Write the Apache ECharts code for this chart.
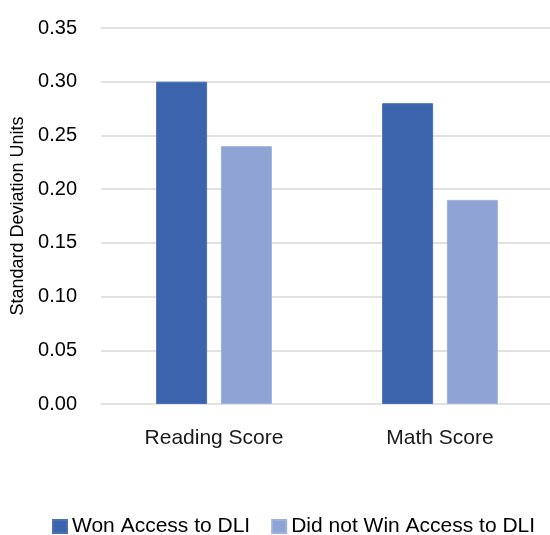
<!DOCTYPE html>
<html>
<head>
<meta charset="utf-8">
<script src="https://cdn.jsdelivr.net/npm/echarts@6/dist/echarts.min.js"></script>
<style>
  html, body { margin: 0; padding: 0; background: #fff; overflow: hidden; }
  /* the plot area runs slightly past the right edge of the window */
  #chart { width: 556px; height: 535px; }
</style>
</head>
<body>
<div id="chart"></div>
<script>
// Effect sizes by outcome, in standard deviation units
const categories = ['Reading Score', 'Math Score'];
const wonAccess = [0.30, 0.28];
const didNotWin = [0.24, 0.19];
const seriesNames = ['Won Access to DLI', 'Did not Win Access to DLI'];
const yTicks = { min: 0, max: 0.35, interval: 0.05 };

const FONT = 'Liberation Sans';
const chart = echarts.init(document.getElementById('chart'), null, { renderer: 'canvas' });

chart.setOption({
  animation: false,
  backgroundColor: '#ffffff',
  textStyle: { fontFamily: FONT },
  grid: { left: 101, top: 28, width: 452, height: 376, containLabel: false },
  legend: {
    top: 516,
    left: 52,
    padding: 0,
    itemWidth: 14,
    itemHeight: 13,
    itemGap: 21,
    icon: 'rect',
    textStyle: { fontFamily: FONT, fontSize: 21, color: '#000' },
    data: seriesNames
  },
  xAxis: {
    type: 'category',
    data: categories,
    axisLine: { show: false },
    axisTick: { show: false },
    axisLabel: { fontFamily: FONT, fontSize: 21, color: '#1a1a1a', margin: 24 }
  },
  yAxis: {
    type: 'value',
    min: yTicks.min,
    max: yTicks.max,
    interval: yTicks.interval,
    name: 'Standard Deviation Units',
    nameLocation: 'middle',
    nameGap: 69,
    nameTextStyle: { fontFamily: FONT, fontSize: 18, color: '#000' },
    axisLine: { show: false },
    axisTick: { show: false },
    splitLine: { lineStyle: { color: '#d9d9d9', width: 1.5 } },
    axisLabel: {
      fontFamily: FONT, fontSize: 20, color: '#000', margin: 24,
      formatter: v => v.toFixed(2)
    }
  },
  series: [
    {
      name: seriesNames[0],
      type: 'bar',
      data: wonAccess,
      barWidth: 51,
      barGap: '27%',
      itemStyle: { color: '#3c64ac', borderColor: '#4a70b6', borderWidth: 1 }
    },
    {
      name: seriesNames[1],
      type: 'bar',
      data: didNotWin,
      barWidth: 51,
      barGap: '27%',
      itemStyle: { color: '#8fa3d4', borderColor: '#9fb2dc', borderWidth: 1 }
    }
  ]
});
</script>
</body>
</html>
